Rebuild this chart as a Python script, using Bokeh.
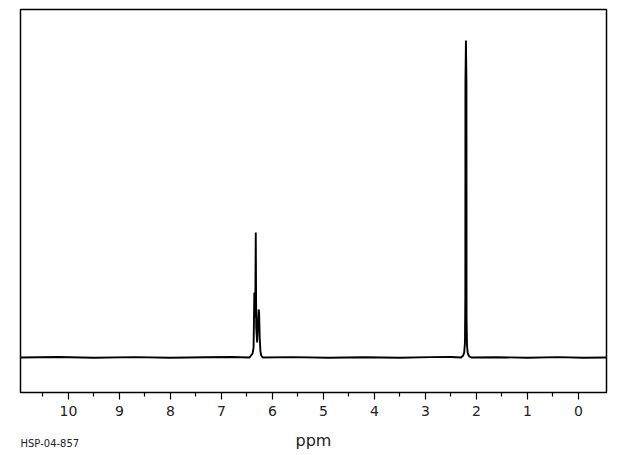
from bokeh.plotting import figure
from bokeh.layouts import column
from bokeh.models import Range1d, FixedTicker
from bokeh.core.properties import value
from bokeh.embed import file_html
from bokeh.resources import INLINE

# Spectrum trace (chemical shift in ppm, intensity in arbitrary units)
ppm = [10.94, 10.2, 9.5, 8.7, 8.0, 7.3, 6.8, 6.45, 6.42, 6.39, 6.37, 6.355, 6.345,
       6.335, 6.327, 6.318, 6.30, 6.285, 6.27, 6.262, 6.25, 6.235, 6.22, 6.19,
       5.6, 4.9, 4.2, 3.5, 2.9, 2.5, 2.30, 2.26, 2.24, 2.225, 2.218, 2.216,
       2.206, 2.196, 2.194, 2.185, 2.17, 2.14, 2.10, 1.6, 1.0, 0.4, -0.1, -0.55]
intensity = [0, 0.5, -0.3, 0.4, -0.2, 0.3, 0.5, 0, 2, 4, 10, 65, 40,
             60, 125, 30, 15, 35, 48, 45, 20, 6, 2, 0,
             0.4, -0.3, 0.3, -0.2, 0.4, 0.5, 0, 2, 5, 15, 61, 275,
             317, 275, 40, 12, 4, 1, 0, 0.3, -0.3, 0.4, -0.2, 0]

x_ticks = [10, 9, 8, 7, 6, 5, 4, 3, 2, 1, 0]
x_minor = [10.5, 9.5, 8.5, 7.5, 6.5, 5.5, 4.5, 3.5, 2.5, 1.5, 0.5]
x_label = "ppm"
sample_id = "HSP-04-857"

xr = Range1d(10.94, -0.55)

p = figure(width=612, height=424, output_backend="svg", toolbar_location=None,
           x_range=xr, y_range=Range1d(-35, 348),
           min_border_left=20, min_border_right=6, min_border_top=9,
           min_border_bottom=32)

p.line(ppm, intensity, line_color="black", line_width=1.9)

p.yaxis.visible = False
p.grid.visible = False
p.outline_line_color = "black"
p.outline_line_width = 1.5

ax = p.xaxis[0]
ax.ticker = FixedTicker(ticks=x_ticks, minor_ticks=x_minor)
ax.axis_line_color = None
ax.major_tick_in = 0
ax.major_tick_out = 7
ax.minor_tick_in = 0
ax.minor_tick_out = 4
ax.major_tick_line_color = "black"
ax.minor_tick_line_color = "black"
ax.major_tick_line_width = 1.2
ax.minor_tick_line_width = 1.2
ax.major_label_text_font = "DejaVu Sans"
ax.major_label_text_font_size = "14px"
ax.major_label_text_color = "#222222"
ax.major_label_standoff = 6

# caption strip below the spectrum
p2 = figure(width=612, height=28, output_backend="svg", toolbar_location=None,
            x_range=xr, y_range=Range1d(0, 28),
            x_axis_location=None, y_axis_location=None,
            min_border_left=20, min_border_right=6, min_border_top=0,
            min_border_bottom=0)
p2.grid.visible = False
p2.outline_line_color = None

p2.text(x=[(xr.start + xr.end) / 2], y=[12], text=[x_label],
        text_font=value("DejaVu Sans"), text_font_size="16px",
        text_color="#222222", text_align="center", text_baseline="middle")
p2.text(x=[xr.start], y=[9], text=[sample_id],
        text_font=value("DejaVu Sans"), text_font_size="10px",
        text_color="#222222", text_align="left", text_baseline="middle")

layout = column(p, p2, spacing=0)
open("out.html", "w").write(file_html(layout, INLINE))
